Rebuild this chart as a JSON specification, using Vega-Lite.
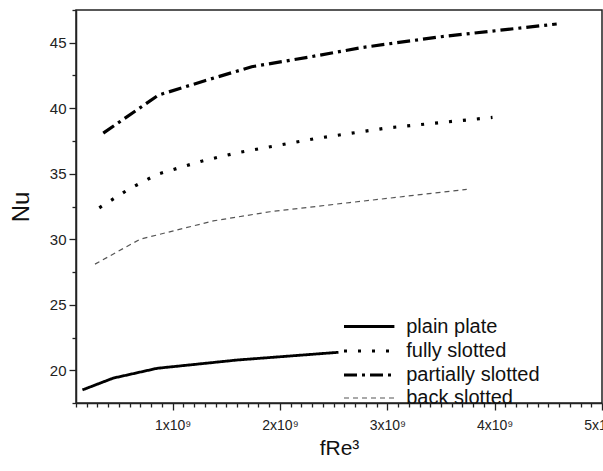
{
  "$schema": "https://vega.github.io/schema/vega-lite/v6.json",
  "width": 526,
  "height": 393,
  "autosize": {"type": "none"},
  "padding": {"left": 76, "top": 10, "right": 1, "bottom": 68},
  "background": "white",
  "config": {
    "font": "Liberation Sans",
    "view": {"stroke": "#222", "strokeWidth": 1.5}
  },
  "data": {
    "values": [
      {"series": "plain plate", "x": 160000000, "nu": 18.5},
      {"series": "plain plate", "x": 447000000, "nu": 19.4},
      {"series": "plain plate", "x": 857000000, "nu": 20.15},
      {"series": "plain plate", "x": 1600000000, "nu": 20.78},
      {"series": "plain plate", "x": 2545000000, "nu": 21.37},
      {"series": "fully slotted", "x": 317000000, "nu": 32.4},
      {"series": "fully slotted", "x": 587000000, "nu": 33.8},
      {"series": "fully slotted", "x": 857000000, "nu": 34.96},
      {"series": "fully slotted", "x": 1270000000, "nu": 35.96},
      {"series": "fully slotted", "x": 1600000000, "nu": 36.6},
      {"series": "fully slotted", "x": 2340000000, "nu": 37.7},
      {"series": "fully slotted", "x": 3000000000, "nu": 38.5},
      {"series": "fully slotted", "x": 3980000000, "nu": 39.3},
      {"series": "partially slotted", "x": 354000000, "nu": 38.1},
      {"series": "partially slotted", "x": 867000000, "nu": 41.0},
      {"series": "partially slotted", "x": 1300000000, "nu": 42.1},
      {"series": "partially slotted", "x": 1737000000, "nu": 43.17},
      {"series": "partially slotted", "x": 2300000000, "nu": 43.95},
      {"series": "partially slotted", "x": 2776000000, "nu": 44.65},
      {"series": "partially slotted", "x": 3500000000, "nu": 45.46},
      {"series": "partially slotted", "x": 4578000000, "nu": 46.43},
      {"series": "back slotted", "x": 277000000, "nu": 28.1},
      {"series": "back slotted", "x": 696000000, "nu": 30.0},
      {"series": "back slotted", "x": 1379000000, "nu": 31.4},
      {"series": "back slotted", "x": 1907000000, "nu": 32.1},
      {"series": "back slotted", "x": 2650000000, "nu": 32.8},
      {"series": "back slotted", "x": 3740000000, "nu": 33.8}
    ]
  },
  "mark": {"type": "line", "clip": true},
  "encoding": {
    "x": {
      "field": "x",
      "type": "quantitative",
      "title": "fRe³",
      "scale": {"domain": [100000000, 5000000000], "nice": false, "zero": false},
      "axis": {
        "values": [100000000,200000000,300000000,400000000,500000000,600000000,700000000,800000000,900000000,1000000000,1100000000,1200000000,1300000000,1400000000,1500000000,1600000000,1700000000,1800000000,1900000000,2000000000,2100000000,2200000000,2300000000,2400000000,2500000000,2600000000,2700000000,2800000000,2900000000,3000000000,3100000000,3200000000,3300000000,3400000000,3500000000,3600000000,3700000000,3800000000,3900000000,4000000000,4100000000,4200000000,4300000000,4400000000,4500000000,4600000000,4700000000,4800000000,4900000000,5000000000],
        "labelExpr": "datum.value % 1000000000 == 0 ? format(datum.value / 1000000000, 'd') + 'x10⁹' : ''",
        "labelOverlap": false,
        "labelBound": false,
        "labelFlush": false,
        "labelFontSize": 14,
        "labelColor": "#222",
        "labelPadding": 8,
        "tickSize": {"condition": {"test": "datum.value % 1000000000 == 0", "value": 7}, "value": 4},
        "tickColor": "#222",
        "tickWidth": 1.3,
        "domainColor": "#222",
        "domainWidth": 1.5,
        "grid": false,
        "titleFontSize": 21,
        "titleFontWeight": "normal",
        "titleColor": "#111",
        "titlePadding": 5
      }
    },
    "y": {
      "field": "nu",
      "type": "quantitative",
      "title": "Nu",
      "scale": {"domain": [17.5, 47.5], "nice": false, "zero": false},
      "axis": {
        "values": [17.5, 20, 22.5, 25, 27.5, 30, 32.5, 35, 37.5, 40, 42.5, 45, 47.5],
        "labelExpr": "datum.value % 5 == 0 ? datum.label : ''",
        "labelOverlap": false,
        "labelFontSize": 15,
        "labelColor": "#222",
        "labelPadding": 3,
        "tickSize": {"condition": {"test": "datum.value % 5 == 0", "value": 7}, "value": 4},
        "tickColor": "#222",
        "tickWidth": 1.3,
        "domainColor": "#222",
        "domainWidth": 1.5,
        "grid": false,
        "titleFontSize": 24,
        "titleFontWeight": "normal",
        "titleColor": "#111",
        "titlePadding": 16
      }
    },
    "color": {
      "field": "series",
      "type": "nominal",
      "scale": {"domain": ["plain plate", "fully slotted", "partially slotted", "back slotted"], "range": ["#000000", "#000000", "#000000", "#555555"]},
      "legend": {
        "title": null,
        "orient": "none",
        "legendX": 266,
        "legendY": 303,
        "symbolType": "M-2.1,0H2.1",
        "symbolSize": 576,
        "labelFontSize": 20,
        "labelColor": "#111",
        "labelOffset": 23,
        "rowPadding": 0,
        "symbolOffset": 13.2
      }
    },
    "strokeDash": {
      "field": "series",
      "type": "nominal",
      "scale": {"domain": ["plain plate", "fully slotted", "partially slotted", "back slotted"], "range": [[1, 0], [3, 11], [13, 5, 3, 5], [5, 4]]}
    },
    "strokeWidth": {
      "field": "series",
      "type": "nominal",
      "scale": {"type": "ordinal", "domain": ["plain plate", "fully slotted", "partially slotted", "back slotted"], "range": [2.8, 3.2, 3.2, 1.2]}
    }
  }
}
